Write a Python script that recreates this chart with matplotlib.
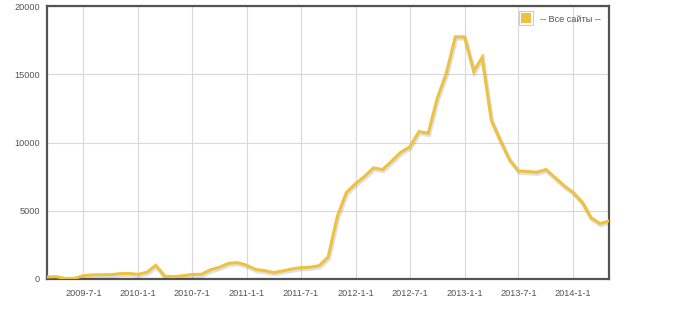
#!/usr/bin/env python3
"""Monthly totals for all sites, flot-style line chart."""
import datetime as dt

import matplotlib
matplotlib.use('Agg')
import matplotlib.pyplot as plt
import matplotlib.dates as mdates
import matplotlib.patheffects as pe
from matplotlib.lines import Line2D
from matplotlib.legend_handler import HandlerTuple

# monthly values, 2009-03 .. 2014-05
start_year, start_month = 2009, 3
values = [150, 170, 30, 50, 240, 300, 310, 320, 390, 410, 340, 510, 1000, 190,
          170, 240, 330, 340, 680, 860, 1150, 1200, 1000, 690, 615, 470, 590,
          735, 835, 860, 980, 1610, 4600, 6330, 6990, 7530, 8140, 8020, 8630,
          9290, 9680, 10800, 10680, 13220, 15100, 17740, 17740, 15230, 16230,
          11630, 10170, 8750, 7920, 7870, 7820, 8020, 7430, 6840, 6330, 5600,
          4500, 4060, 4250]
series_label = '-- Все сайты --'
x_tick_labels = ['2009-7-1', '2010-1-1', '2010-7-1', '2011-1-1', '2011-7-1',
                 '2012-1-1', '2012-7-1', '2013-1-1', '2013-7-1', '2014-1-1']
y_ticks = [0, 5000, 10000, 15000, 20000]


def month_dates(y, m, n):
    out = []
    for _ in range(n):
        out.append(dt.datetime(y, m, 1))
        m += 1
        if m > 12:
            m = 1
            y += 1
    return out


dates = month_dates(start_year, start_month, len(values))
tick_dates = [dt.datetime(*map(int, s.split('-'))) for s in x_tick_labels]

LINE = '#edc240'
FRAME = '#545454'
GRID = '#d8d8d8'
TEXT = '#545454'

plt.rcParams['font.family'] = ['Liberation Sans', 'DejaVu Sans']

fig = plt.figure(figsize=(6.76, 3.09), dpi=100)
ax = fig.add_axes([47 / 676, 1 - 279 / 309, 562 / 676, 273 / 309])

ax.plot(dates, values, color=LINE, lw=2.2, solid_joinstyle='miter',
        path_effects=[pe.SimpleLineShadow(offset=(0.6, -1.2), shadow_color='k', alpha=0.12, linewidth=3),
                      pe.Normal()], zorder=3)

ax.set_xlim(dates[0], dates[-1])
ax.set_ylim(0, 20000)
ax.set_xticks([mdates.date2num(d) for d in tick_dates])
ax.set_xticklabels(x_tick_labels)
ax.set_yticks(y_ticks)
ax.set_yticklabels([str(v) for v in y_ticks])
ax.tick_params(length=0, labelsize=6.6, labelcolor=TEXT)
ax.tick_params(axis='x', pad=7)
ax.tick_params(axis='y', pad=5)
ax.grid(True, color=GRID, lw=0.8)
ax.set_axisbelow(True)
for s in ax.spines.values():
    s.set_color(FRAME)
    s.set_linewidth(1.6)

# flot-style swatch: gray border, white padding, coloured box
outer = Line2D([], [], ls='none', marker='s', ms=9.4, mfc='white', mec='#cccccc', mew=0.8)
inner = Line2D([], [], ls='none', marker='s', ms=7.4, mfc=LINE, mec=LINE, mew=0)
leg = ax.legend([(outer, inner)], [series_label], loc='upper right', frameon=False,
                fontsize=6.6, handlelength=1.4, handleheight=1.2,
                handletextpad=0.8, borderaxespad=0.5,
                handler_map={tuple: HandlerTuple(ndivide=1)})
for t in leg.get_texts():
    t.set_color(TEXT)

fig.savefig('out.png', dpi=100)
